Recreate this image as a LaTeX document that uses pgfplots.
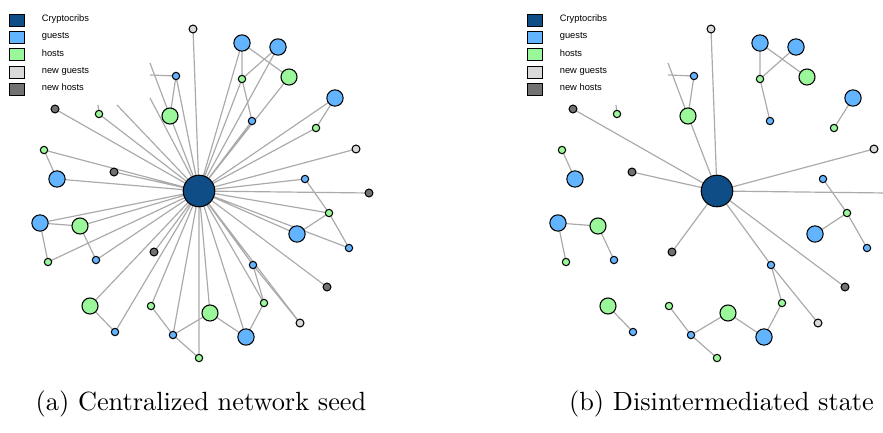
\documentclass[border=0pt]{standalone}
\usepackage{fontspec}
\usepackage{pgfplots}
\pgfplotsset{compat=1.18}
\usepackage{pgfplotstable}
\newfontfamily\legfont{Liberation Sans}
\definecolor{crypto}{HTML}{0F4D87}
\definecolor{guest}{HTML}{63B4FF}
\definecolor{host}{HTML}{9AF79A}
\definecolor{newguest}{HTML}{D9D9D9}
\definecolor{newhost}{HTML}{727272}
\definecolor{edgecol}{HTML}{AAAAAA}

% node positions (pixel units of each panel)
\pgfplotstableread{
x y
199 191
}\centernode
\pgfplotstableread{
x y
57 179
242 43
278 47
335 98
40 223
297 234
246 337
}\guestbig
\pgfplotstableread{
x y
176 76
252 121
305 179
96 260
115 332
173 335
349 248
253 265
}\guestsmall
\pgfplotstableread{
x y
170 116
289 77
80 226
90 306
210 313
}\hostbig
\pgfplotstableread{
x y
99 114
44 150
242 79
316 128
48 262
151 306
199 358
329 213
264 303
}\hostsmall
\pgfplotstableread{
x y
193 29
356 149
300 323
}\newguests
\pgfplotstableread{
x y
55 109
114 172
369 193
154 252
327 287
}\newhosts

\pgfplotsset{
  netaxis/.style={scale only axis, width=167.77pt, height=164.16pt,
    ymin=0, ymax=432, y dir=reverse, axis lines=none, ticks=none, clip=true,
    legend style={at={(axis cs:9,13.5)}, anchor=north west, draw=none, fill=none,
      inner sep=0pt, outer sep=0pt,
      font=\legfont\fontsize{3.55}{4}\selectfont, row sep=1.65pt, column sep=6.4pt,
      nodes={inner sep=0pt}},
    legend cell align=left,
    legend image code/.code={\draw[#1, line width=0.38pt] (0pt,-2.28pt) rectangle (5.7pt,2.28pt);}},
  edge/.style={no markers, color=edgecol, line width=0.45pt, forget plot, unbounded coords=jump},
  netnode/.style={only marks, mark=*, mark options={draw=black, line width=0.38pt}, forget plot},
}

\newcommand{\legendimages}{%
  \addlegendimage{fill=crypto, draw=black}
  \addlegendentry{Cryptocribs}
  \addlegendimage{fill=guest, draw=black}
  \addlegendentry{guests}
  \addlegendimage{fill=host, draw=black}
  \addlegendentry{hosts}
  \addlegendimage{fill=newguest, draw=black}
  \addlegendentry{new guests}
  \addlegendimage{fill=newhost, draw=black}
  \addlegendentry{new hosts}
}

\newcommand{\peeredges}{%
  \addplot[edge] coordinates {
    (170,116) (176,76) (nan,nan)
    (150,63) (170,116) (nan,nan)
    (150,75) (176,76) (nan,nan)
    (98,105) (99,114) (nan,nan)
    (44,150) (57,179) (nan,nan)
    (242,79) (242,43) (289,77) (nan,nan)
    (278,47) (242,79) (252,121) (nan,nan)
    (335,98) (316,128) (nan,nan)
    (305,179) (329,213) (297,234) (nan,nan)
    (329,213) (349,248) (nan,nan)
    (48,262) (40,223) (80,226) (96,260) (nan,nan)
    (90,306) (115,332) (nan,nan)
    (151,306) (173,335) (199,358) (nan,nan)
    (173,335) (210,313) (246,337) (264,303) (253,265) (300,323)
  };
}

\newcommand{\netnodes}{%
  \addplot[netnode, mark size=6.0pt, mark options={fill=crypto}] table {\centernode};
  \addplot[netnode, mark size=3.1pt, mark options={fill=guest}] table {\guestbig};
  \addplot[netnode, mark size=1.4pt, mark options={fill=guest}] table {\guestsmall};
  \addplot[netnode, mark size=3.05pt, mark options={fill=host}] table {\hostbig};
  \addplot[netnode, mark size=1.4pt, mark options={fill=host}] table {\hostsmall};
  \addplot[netnode, mark size=1.5pt, mark options={fill=newguest}] table {\newguests};
  \addplot[netnode, mark size=1.5pt, mark options={fill=newhost}] table {\newhosts};
}

\begin{document}
\begin{tikzpicture}
\path[use as bounding box] (0,0) rectangle (335.54pt,164.16pt);
% (a) centralized
\begin{axis}[netaxis, xmin=0, xmax=441.5, at={(0pt,0pt)}, anchor=south west]
  \legendimages
  \addplot[edge] coordinates {
    (199,191) (57,179) (199,191) (242,43) (199,191) (278,47) (199,191) (335,98)
    (199,191) (40,223) (199,191) (297,234) (199,191) (246,337)
    (199,191) (176,76) (199,191) (252,121) (199,191) (305,179) (199,191) (96,260)
    (199,191) (115,332) (199,191) (173,335) (199,191) (349,248) (199,191) (253,265)
    (199,191) (170,116) (199,191) (289,77) (199,191) (80,226) (199,191) (90,306)
    (199,191) (210,313)
    (199,191) (99,114) (199,191) (44,150) (199,191) (242,79) (199,191) (316,128)
    (199,191) (48,262) (199,191) (151,306) (199,191) (199,358) (199,191) (329,213)
    (199,191) (264,303)
    (199,191) (193,29) (199,191) (356,149) (199,191) (300,323)
    (199,191) (55,109) (199,191) (114,172) (199,191) (369,193) (199,191) (154,252)
    (199,191) (327,287)
    (199,191) (150,98) (199,191) (117,105) (199,191)
  };
  \peeredges
  \netnodes
  \node[font=\fontsize{10}{12}\selectfont] at (axis cs:201,404) {(a) Centralized network seed};
\end{axis}
% (b) disintermediated
\begin{axis}[netaxis, xmin=-76.5, xmax=365, at={(167.77pt,0pt)}, anchor=south west]
  \legendimages
  \addplot[edge] coordinates {
    (199,191) (55,109) (199,191) (114,172) (199,191) (170,116) (199,191) (193,29)
    (199,191) (356,149) (199,191) (369,193) (199,191) (154,252) (199,191) (253,265)
    (199,191) (327,287) (199,191)
  };
  \peeredges
  \netnodes
  \node[font=\fontsize{10}{12}\selectfont] at (axis cs:203.5,404) {(b) Disintermediated state};
\end{axis}
\end{tikzpicture}
\end{document}
